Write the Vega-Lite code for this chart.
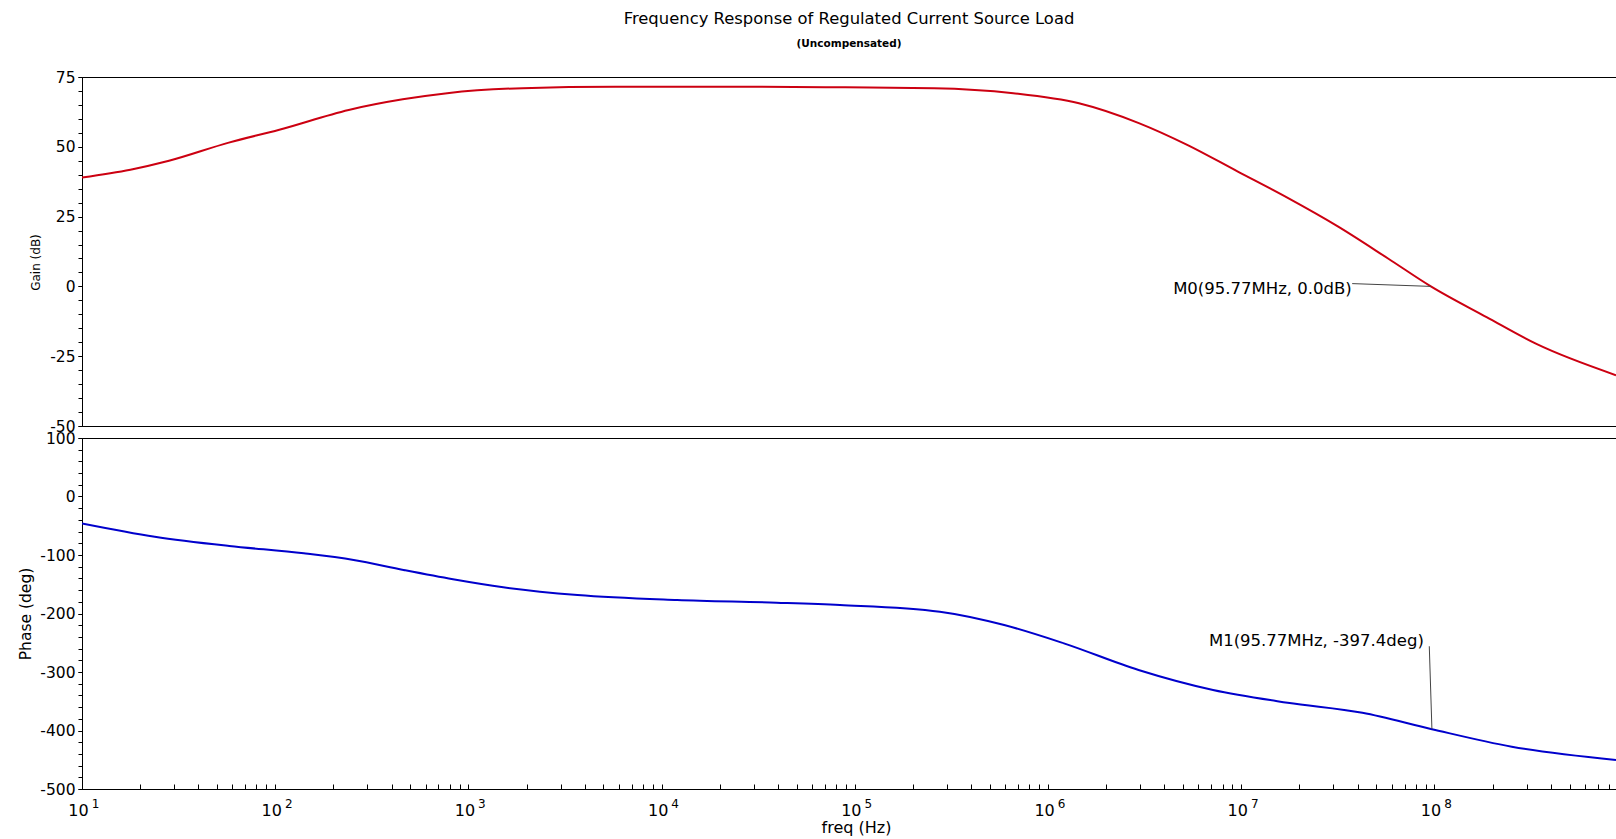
{
  "$schema": "https://vega.github.io/schema/vega-lite/v6.json",
  "background": "white",
  "padding": {"left": 17, "top": 10, "right": 0, "bottom": 0},
  "spacing": 12,
  "bounds": "flush",
  "config": {
    "view": {"stroke": "#000000", "strokeWidth": 1},
    "axis": {
      "domainColor": "#000000", "tickColor": "#000000", "labelColor": "#000000", "titleColor": "#000000",
      "labelFont": "DejaVu Sans", "titleFont": "DejaVu Sans", "titleFontWeight": "normal",
      "grid": false, "labelFontSize": 15.5, "labelOverlap": false, "labelFlush": false, "tickSize": 4, "labelPadding": 3
    }
  },
  "datasets": {
    "gain": [
      {"freq": 10, "gain": 39.0}, {"freq": 17.8, "gain": 41.8}, {"freq": 28.2, "gain": 45.0},
      {"freq": 57.5, "gain": 51.5}, {"freq": 105, "gain": 56.1}, {"freq": 240, "gain": 63.2},
      {"freq": 457, "gain": 67.0}, {"freq": 776, "gain": 69.2}, {"freq": 1905, "gain": 71.0},
      {"freq": 5750, "gain": 71.5}, {"freq": 31600, "gain": 71.5}, {"freq": 89100, "gain": 71.3},
      {"freq": 257000, "gain": 71.0}, {"freq": 661000, "gain": 69.2}, {"freq": 1445000, "gain": 65.6},
      {"freq": 2950000, "gain": 58.5}, {"freq": 5250000, "gain": 50.7}, {"freq": 9550000, "gain": 41.2},
      {"freq": 17400000, "gain": 31.7}, {"freq": 31600000, "gain": 21.5}, {"freq": 57500000, "gain": 10.0},
      {"freq": 95770000, "gain": 0.0}, {"freq": 186000000, "gain": -11.0}, {"freq": 339000000, "gain": -20.7},
      {"freq": 870000000, "gain": -31.8}
    ],
    "phase": [
      {"freq": 10, "phase": -46}, {"freq": 23.8, "phase": -68.7}, {"freq": 57.8, "phase": -84.6},
      {"freq": 140.6, "phase": -97.1}, {"freq": 254.7, "phase": -108.5}, {"freq": 461, "phase": -125.6},
      {"freq": 832, "phase": -141.5}, {"freq": 1514, "phase": -155.2}, {"freq": 3673, "phase": -168.4},
      {"freq": 12020, "phase": -176.9}, {"freq": 39360, "phase": -181.5}, {"freq": 83750, "phase": -185.5},
      {"freq": 275400, "phase": -196.9}, {"freq": 593000, "phase": -219.7}, {"freq": 1208000, "phase": -251},
      {"freq": 2940000, "phase": -296.6}, {"freq": 7145000, "phase": -330.8}, {"freq": 17380000, "phase": -352.5},
      {"freq": 42360000, "phase": -369.6}, {"freq": 95770000, "phase": -397.4}, {"freq": 251200000, "phase": -427.7},
      {"freq": 870000000, "phase": -450.4}
    ],
    "m0": [{"label": "M0(95.77MHz, 0.0dB)", "freq": 4440000, "gain": -1.07, "lineFreq": 37500000, "lineGain": 1.0, "markFreq": 95770000, "markGain": 0.0}],
    "m1": [{"label": "M1(95.77MHz, -397.4deg)", "freq": 6800000, "phase": -247, "lineFreq": 94000000, "linePhase": -256, "markFreq": 97000000, "markPhase": -397.4}]
  },
  "vconcat": [
    {
      "width": 1534,
      "height": 349,
      "resolve": {"axis": {"y": "independent"}},
      "title": {
        "text": "Frequency Response of Regulated Current Source Load",
        "subtitle": "(Uncompensated)",
        "font": "DejaVu Sans", "fontSize": 16.4, "fontWeight": "normal", "color": "#000000",
        "subtitleFont": "DejaVu Sans", "subtitleFontSize": 10.5, "subtitleFontWeight": "bold", "subtitleColor": "#000000",
        "subtitlePadding": 12, "anchor": "middle", "frame": "group", "offset": 20.5
      },
      "layer": [
        {
          "data": {"name": "gain"},
          "mark": {"type": "line", "color": "#cc0011", "strokeWidth": 2, "interpolate": "monotone", "clip": true},
          "encoding": {
            "x": {"field": "freq", "type": "quantitative", "scale": {"type": "log", "domain": [10, 870000000], "nice": false}, "axis": null},
            "y": {"field": "gain", "type": "quantitative", "scale": {"domain": [-50, 75], "nice": false, "zero": false},
              "axis": {"orient": "left", "title": "Gain (dB)", "titleFontSize": 12, "titleX": -40, "titleY": 185,
                "values": [-50, -25, 0, 25, 50, 75],
                "labelExpr": "'' + datum.value"}}
          }
        },
        {
          "data": {"name": "m0"},
          "mark": {"type": "rule", "color": "#444444", "strokeWidth": 1},
          "encoding": {
            "x": {"field": "lineFreq", "type": "quantitative", "axis": null},
            "x2": {"field": "markFreq"},
            "y": {"field": "lineGain", "type": "quantitative",
              "axis": {"orient": "left", "title": null, "labels": false, "domain": false,
                "values": [-50,-45,-40,-35,-30,-25,-20,-15,-10,-5,0,5,10,15,20,25,30,35,40,45,50,55,60,65,70,75]}},
            "y2": {"field": "markGain"}
          }
        },
        {
          "data": {"name": "m0"},
          "mark": {"type": "text", "align": "left", "baseline": "middle", "font": "DejaVu Sans", "fontSize": 16.5, "color": "#000000"},
          "encoding": {
            "x": {"field": "freq", "type": "quantitative", "axis": null},
            "y": {"field": "gain", "type": "quantitative", "axis": null},
            "text": {"field": "label"}
          }
        }
      ]
    },
    {
      "width": 1534,
      "height": 351,
      "resolve": {"axis": {"x": "independent", "y": "independent"}},
      "layer": [
        {
          "data": {"name": "phase"},
          "mark": {"type": "line", "color": "#0000cc", "strokeWidth": 2, "interpolate": "monotone", "clip": true},
          "encoding": {
            "x": {"field": "freq", "type": "quantitative", "scale": {"type": "log", "domain": [10, 870000000], "nice": false},
              "axis": {"orient": "bottom", "title": "freq (Hz)", "titleFontSize": 16, "titleX": 774, "titleY": 30, "titleBaseline": "top",
                "tickSize": -5, "labelPadding": 31, "labelBaseline": "alphabetic", "labelFontSize": 16, "labelOffset": -4,
                "values": [10,100,1000,10000,100000,1000000,10000000,100000000],
                "labelExpr": "'10'"}},
            "y": {"field": "phase", "type": "quantitative", "scale": {"domain": [-500, 100], "nice": false, "zero": false},
              "axis": {"orient": "left", "title": "Phase (deg)", "titleFontSize": 15.5, "titleX": -49,
                "values": [-500, -400, -300, -200, -100, 0, 100],
                "labelExpr": "'' + datum.value"}}
          }
        },
        {
          "data": {"name": "m1"},
          "mark": {"type": "rule", "color": "#444444", "strokeWidth": 1},
          "encoding": {
            "x": {"field": "lineFreq", "type": "quantitative",
              "axis": {"orient": "bottom", "title": null, "domain": false, "ticks": false, "tickSize": 0, "labelPadding": 18,
                "labelBaseline": "alphabetic", "labelFontSize": 12, "labelOffset": 13,
                "values": [10,100,1000,10000,100000,1000000,10000000,100000000],
                "labelExpr": "'' + round(log(datum.value)/LN10)"}},
            "x2": {"field": "markFreq"},
            "y": {"field": "linePhase", "type": "quantitative",
              "axis": {"orient": "left", "title": null, "labels": false, "domain": false,
                "values": [-500,-480,-460,-440,-420,-400,-380,-360,-340,-320,-300,-280,-260,-240,-220,-200,-180,-160,-140,-120,-100,-80,-60,-40,-20,0,20,40,60,80,100]}},
            "y2": {"field": "markPhase"}
          }
        },
        {
          "data": {"name": "m1"},
          "mark": {"type": "text", "align": "left", "baseline": "middle", "font": "DejaVu Sans", "fontSize": 16.5, "color": "#000000"},
          "encoding": {
            "x": {"field": "freq", "type": "quantitative",
              "axis": {"orient": "bottom", "title": null, "domain": false, "labels": false, "tickSize": -5,
                "values": [20,30,40,50,60,70,80,90,200,300,400,500,600,700,800,900,2000,3000,4000,5000,6000,7000,8000,9000,20000,30000,40000,50000,60000,70000,80000,90000,200000,300000,400000,500000,600000,700000,800000,900000,2000000,3000000,4000000,5000000,6000000,7000000,8000000,9000000,20000000,30000000,40000000,50000000,60000000,70000000,80000000,90000000,200000000,300000000,400000000,500000000,600000000,700000000,800000000]}},
            "y": {"field": "phase", "type": "quantitative", "axis": null},
            "text": {"field": "label"}
          }
        }
      ]
    }
  ]
}
